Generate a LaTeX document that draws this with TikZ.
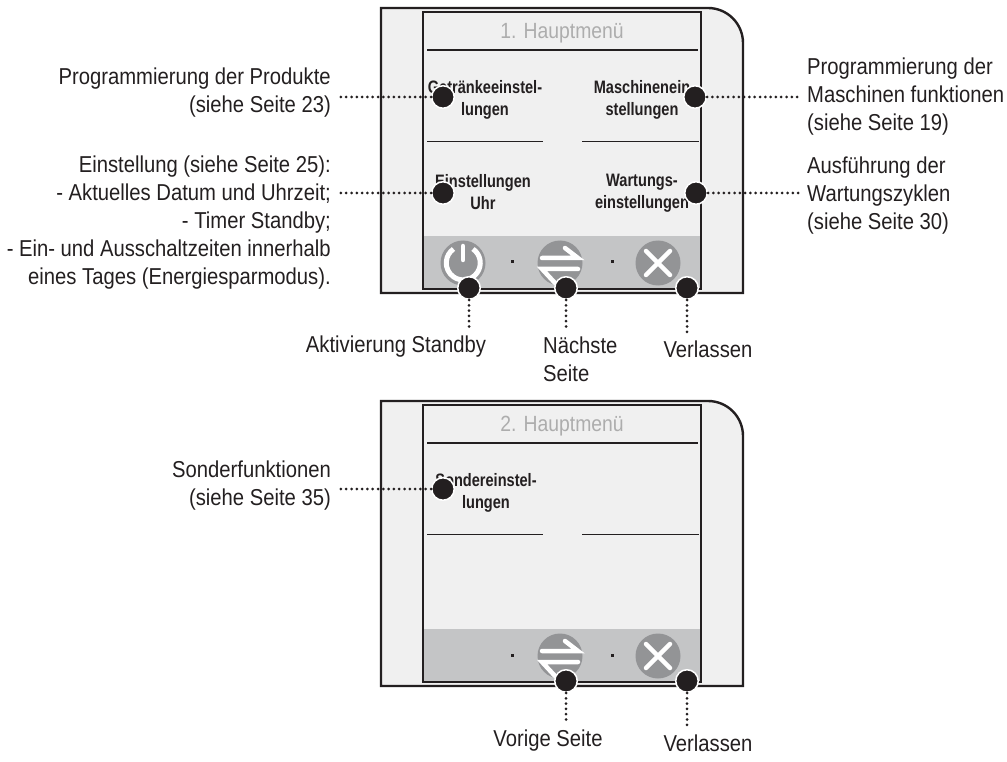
\documentclass[tikz,border=0pt]{standalone}
\usepackage{fontspec}
\setmainfont[FakeStretch=0.88]{Liberation Sans}
\newfontfamily\btnfont[FakeStretch=0.81]{Liberation Sans}
\definecolor{screen}{HTML}{F0F0F0}
\definecolor{band}{HTML}{C4C5C6}
\definecolor{icon}{HTML}{939496}
\definecolor{ink}{HTML}{231F20}
\tikzset{
    bullet/.style={circle, fill=ink, draw=white, line width=1.5pt, minimum size=22.5pt, inner sep=0pt},
    dotline/.style={ink, line width=3pt, line cap=round, dash pattern=on 0pt off 5.3pt},
    label/.style={font=\fontsize{23}{28}\selectfont, text=ink, inner sep=0pt},
    button/.style={font=\btnfont\fontsize{18}{22.5}\selectfont\bfseries, text=ink, align=center, inner sep=0pt},
    title/.style={font=\fontsize{22}{24}\selectfont, text=black!32, inner sep=0pt},
    glyph/.style={white, line width=4.5pt, line cap=round}
}

\begin{document}
\begin{tikzpicture}[x=1pt, y=-1pt]
    \useasboundingbox (0,0) rectangle (1007,762);
    % the two panels
    \foreach \yo in {0,393}{
        \draw[ink, line width=2.4pt, fill=screen] (381,8+\yo) -- (708,8+\yo) arc[start angle=90, end angle=0, radius=35pt] -- (743,293+\yo) -- (381,293+\yo) -- cycle;
        \fill[band] (423,236+\yo) rectangle (701,289+\yo);
        \draw[ink, line width=1.6pt] (423,12+\yo) rectangle (701,289+\yo);
        \draw[ink, line width=1.1pt] (427,50+\yo) -- (698,50+\yo);
        \draw[ink, line width=1.1pt] (427,141.5+\yo) -- (543,141.5+\yo);
        \draw[ink, line width=1.1pt] (582,141.5+\yo) -- (699,141.5+\yo);
        \fill[ink] (510.5,260.5+\yo) rectangle (513.5,263.5+\yo);
        \fill[ink] (611,260.5+\yo) rectangle (614,263.5+\yo);
        % swap icon
        \fill[icon] (560,263+\yo) circle (22.5);
        \draw[glyph] (542,258+\yo) -- (578,258+\yo) -- (565,248+\yo);
        \draw[glyph] (578,269+\yo) -- (542,269+\yo) -- (555,283+\yo);
        % exit icon
        \fill[icon] (658,263+\yo) circle (22.5);
        \draw[glyph] (646,251+\yo) -- (670,275+\yo);
        \draw[glyph] (670,251+\yo) -- (646,275+\yo);
    }
    % power icon
    \fill[icon] (463,263) circle (22.5);
    \draw[white, line width=5pt] (473,249) arc[start angle=55, end angle=-235, radius=17pt];
    \draw[glyph] (463,246) -- (463,260);

    % texts on the screens
    \node[title] (head1) at (562,33) {1. Hauptmenü};
    \node[title] (head2) at (562,426) {2. Hauptmenü};
    \node[button] (drinks) at (485,100) {Getränkeeinstel-\\lungen};
    \node[button] (machine) at (642,100) {Maschinenein\\stellungen};
    \node[button] (clock) at (483,192) {Einstellungen\\Uhr};
    \node[button] (service) at (642,193) {Wartungs-\\einstellungen};
    \node[button] (special) at (486,493) {Sondereinstel-\\lungen};

    % outer labels
    \node[label, align=right, anchor=east] (progdrinks) at (331,93) {Programmierung der Produkte\\(siehe Seite 23)};
    \node[label, align=right, anchor=east] (setclock) at (331,223) {Einstellung (siehe Seite 25):\\- Aktuelles Datum und Uhrzeit;\\- Timer Standby;\\- Ein- und Ausschaltzeiten innerhalb\\eines Tages (Energiesparmodus).};
    \node[label, align=left, anchor=west] (progmachine) at (807,97) {Programmierung der\\Maschinen funktionen\\(siehe Seite 19)};
    \node[label, align=left, anchor=west] (runservice) at (807,196) {Ausführung der\\Wartungszyklen\\(siehe Seite 30)};
    \node[label, align=right, anchor=east] (progspecial) at (331,486) {Sonderfunktionen\\(siehe Seite 35)};
    \node[label] (standby) at (396,347) {Aktivierung Standby};
    \node[label, align=left, anchor=north west] (nextpage) at (543,337) {Nächste\\Seite};
    \node[label] (quit1) at (708,349) {Verlassen};
    \node[label] (prevpage) at (548,741) {Vorige Seite};
    \node[label] (quit2) at (708,743) {Verlassen};

    % bullets
    \node[bullet] (bdrinks) at (443,97) {};
    \node[bullet] (bmachine) at (695,97) {};
    \node[bullet] (bclock) at (443,193) {};
    \node[bullet] (bservice) at (696,193) {};
    \node[bullet] (bstandby) at (469,288) {};
    \node[bullet] (bnext) at (566,288) {};
    \node[bullet] (bquit1) at (687,288) {};
    \node[bullet] (bspecial) at (443,489) {};
    \node[bullet] (bprev) at (566,681) {};
    \node[bullet] (bquit2) at (687,681) {};

    % connectors
    \draw[dotline, shorten >=8pt] (bdrinks) -- (bdrinks -| progdrinks.east);
    \draw[dotline, shorten >=8pt] (bclock) -- (bclock -| setclock.east);
    \draw[dotline, shorten >=8pt] (bspecial) -- (bspecial -| progspecial.east);
    \draw[dotline, shorten >=6pt] (bmachine) -- (bmachine -| progmachine.west);
    \draw[dotline, shorten >=6pt] (bservice) -- (bservice -| runservice.west);
    \draw[dotline, shorten >=6pt] (bstandby) -- (bstandby |- standby.north);
    \draw[dotline, shorten >=6pt] (bnext) -- (bnext |- nextpage.north);
    \draw[dotline, shorten >=6pt] (bquit1) -- (bquit1 |- quit1.north);
    \draw[dotline, shorten >=6pt] (bprev) -- (bprev |- prevpage.north);
    \draw[dotline, shorten >=6pt] (bquit2) -- (bquit2 |- quit2.north);
\end{tikzpicture}
\end{document}
